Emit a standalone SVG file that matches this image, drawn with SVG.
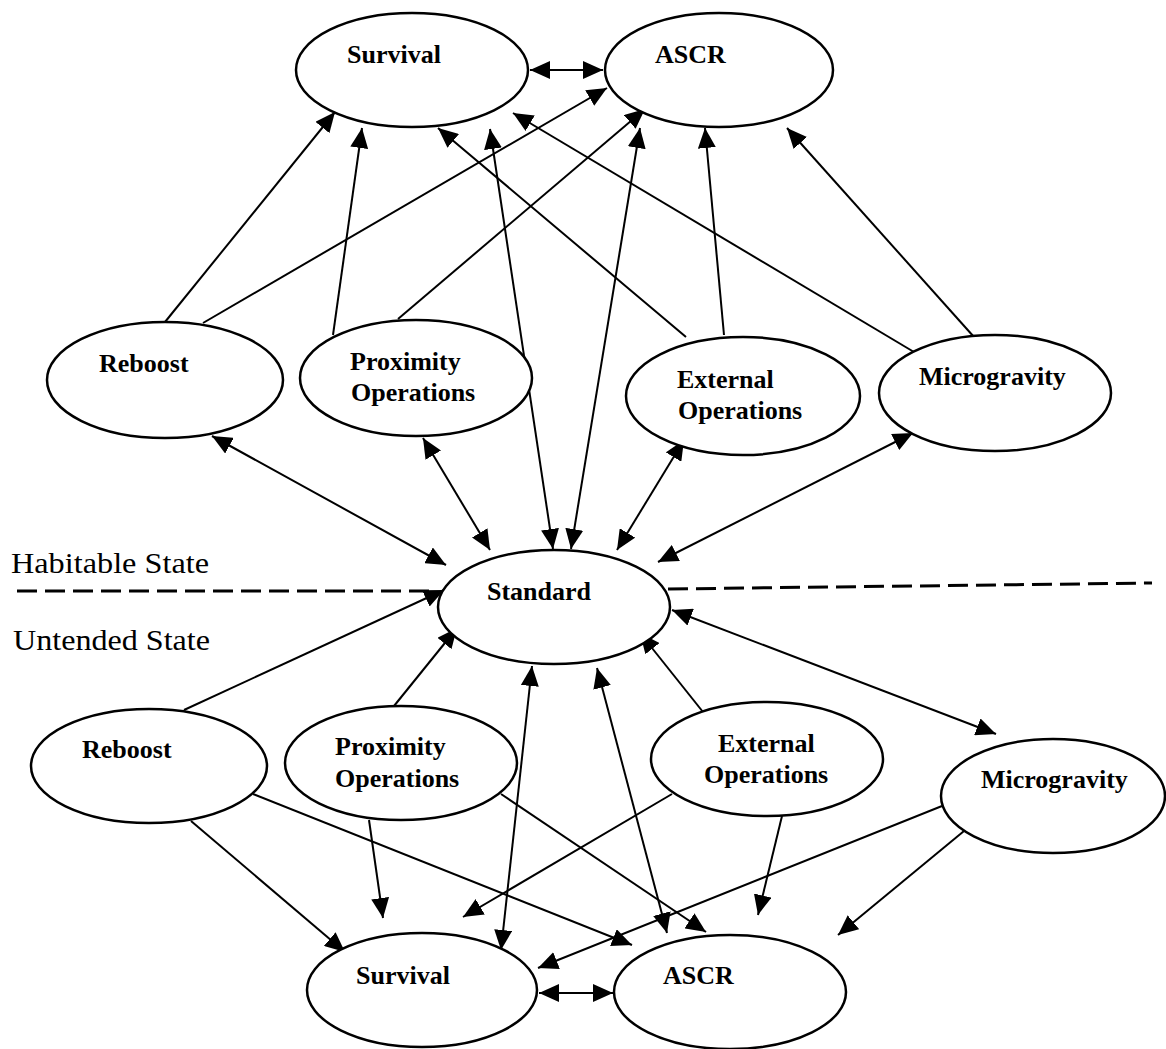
<svg xmlns="http://www.w3.org/2000/svg" width="1166" height="1049" viewBox="0 0 1166 1049">
  <style>
    .node ellipse { fill: #fff; stroke: #000; stroke-width: 2.5; }
    .lbl { font-family: "Liberation Serif", "Times New Roman", serif; font-weight: bold; font-size: 26px; fill: #000; }
    .state { font-family: "Liberation Serif", "Times New Roman", serif; font-size: 30px; fill: #000; }
    .conn line { stroke: #000; stroke-width: 2; marker-end: url(#head); }
    .conn line.both { marker-start: url(#head); }
    .divider { stroke: #000; stroke-width: 3; stroke-dasharray: 20 8; fill: none; }
  </style>
  <defs>
    <marker id="head" markerUnits="userSpaceOnUse" markerWidth="22" markerHeight="18" refX="20" refY="9" orient="auto-start-reverse" viewBox="0 0 22 18">
      <path d="M0,0 L20,9 L0,18 Z" fill="#000"/>
    </marker>
  </defs>

  <rect width="1166" height="1049" fill="#fff"/>

  <!-- state boundary -->
  <g id="boundary">
    <line class="divider" x1="17" y1="591" x2="430" y2="591"/>
    <line class="divider" x1="668" y1="589" x2="1152" y2="583"/>
    <text class="state" x="11" y="573" textLength="198" lengthAdjust="spacingAndGlyphs">Habitable State</text>
    <text class="state" x="13" y="650" textLength="197" lengthAdjust="spacingAndGlyphs">Untended State</text>
  </g>

  <!-- connectors -->
  <g id="connectors" class="conn">
    <!-- habitable side -->
    <line class="both" x1="530" y1="70" x2="603" y2="70"/>
    <line x1="165" y1="322" x2="335" y2="112"/>
    <line x1="203" y1="323" x2="607" y2="88"/>
    <line x1="333" y1="335" x2="362" y2="128"/>
    <line x1="398" y1="319" x2="645" y2="109"/>
    <line x1="686" y1="337" x2="438" y2="128"/>
    <line x1="724" y1="335" x2="705" y2="128"/>
    <line x1="914" y1="352" x2="513" y2="113"/>
    <line x1="974" y1="337" x2="787" y2="128"/>
    <line class="both" x1="553" y1="549" x2="490" y2="129"/>
    <line class="both" x1="571" y1="549" x2="640" y2="128"/>
    <line class="both" x1="212" y1="436" x2="446" y2="565"/>
    <line class="both" x1="423" y1="438" x2="490" y2="550"/>
    <line class="both" x1="684" y1="440" x2="617" y2="550"/>
    <line class="both" x1="913" y1="433" x2="658" y2="562"/>
    <!-- untended side -->
    <line x1="184" y1="710" x2="444" y2="590"/>
    <line x1="394" y1="706" x2="457" y2="628"/>
    <line x1="703" y1="712" x2="640" y2="633"/>
    <line class="both" x1="672" y1="610" x2="996" y2="734"/>
    <line class="both" x1="532" y1="666" x2="501" y2="950"/>
    <line class="both" x1="597" y1="668" x2="667" y2="933"/>
    <line x1="191" y1="821" x2="345" y2="952"/>
    <line x1="253" y1="794" x2="632" y2="945"/>
    <line x1="369" y1="820" x2="383" y2="918"/>
    <line x1="501" y1="794" x2="706" y2="932"/>
    <line x1="672" y1="794" x2="463" y2="917"/>
    <line x1="782" y1="816" x2="758" y2="915"/>
    <line x1="942" y1="806" x2="538" y2="968"/>
    <line x1="964" y1="831" x2="838" y2="935"/>
    <line class="both" x1="539" y1="993" x2="613" y2="993"/>
  </g>

  <!-- habitable state nodes -->
  <g id="survival-habitable" class="node">
    <ellipse cx="412" cy="70" rx="116" ry="57"/>
    <text class="lbl" x="347" y="63">Survival</text>
  </g>
  <g id="ascr-habitable" class="node">
    <ellipse cx="719" cy="70" rx="114" ry="57"/>
    <text class="lbl" x="655" y="63">ASCR</text>
  </g>
  <g id="reboost-habitable" class="node">
    <ellipse cx="165" cy="380" rx="118" ry="58"/>
    <text class="lbl" x="99" y="372">Reboost</text>
  </g>
  <g id="proximity-habitable" class="node">
    <ellipse cx="416" cy="378" rx="116" ry="58"/>
    <text class="lbl" x="350" y="370">Proximity</text>
    <text class="lbl" x="351" y="401">Operations</text>
  </g>
  <g id="external-habitable" class="node">
    <ellipse cx="743" cy="396" rx="117" ry="59"/>
    <text class="lbl" x="677" y="388">External</text>
    <text class="lbl" x="678" y="419">Operations</text>
  </g>
  <g id="microgravity-habitable" class="node">
    <ellipse cx="995" cy="393" rx="116" ry="58"/>
    <text class="lbl" x="919" y="385">Microgravity</text>
  </g>

  <!-- shared standard node -->
  <g id="standard" class="node">
    <ellipse cx="554" cy="607" rx="116" ry="57"/>
    <text class="lbl" x="487" y="600">Standard</text>
  </g>

  <!-- untended state nodes -->
  <g id="reboost-untended" class="node">
    <ellipse cx="149" cy="766" rx="118" ry="57"/>
    <text class="lbl" x="82" y="758">Reboost</text>
  </g>
  <g id="proximity-untended" class="node">
    <ellipse cx="401" cy="763" rx="116" ry="57"/>
    <text class="lbl" x="335" y="755">Proximity</text>
    <text class="lbl" x="335" y="787">Operations</text>
  </g>
  <g id="external-untended" class="node">
    <ellipse cx="767" cy="759" rx="116" ry="57"/>
    <text class="lbl" x="718" y="752">External</text>
    <text class="lbl" x="704" y="783">Operations</text>
  </g>
  <g id="microgravity-untended" class="node">
    <ellipse cx="1053" cy="796" rx="112" ry="57"/>
    <text class="lbl" x="981" y="788">Microgravity</text>
  </g>
  <g id="survival-untended" class="node">
    <ellipse cx="422" cy="990" rx="115" ry="57"/>
    <text class="lbl" x="356" y="984">Survival</text>
  </g>
  <g id="ascr-untended" class="node">
    <ellipse cx="730" cy="992" rx="116" ry="57"/>
    <text class="lbl" x="663" y="984">ASCR</text>
  </g>
</svg>
